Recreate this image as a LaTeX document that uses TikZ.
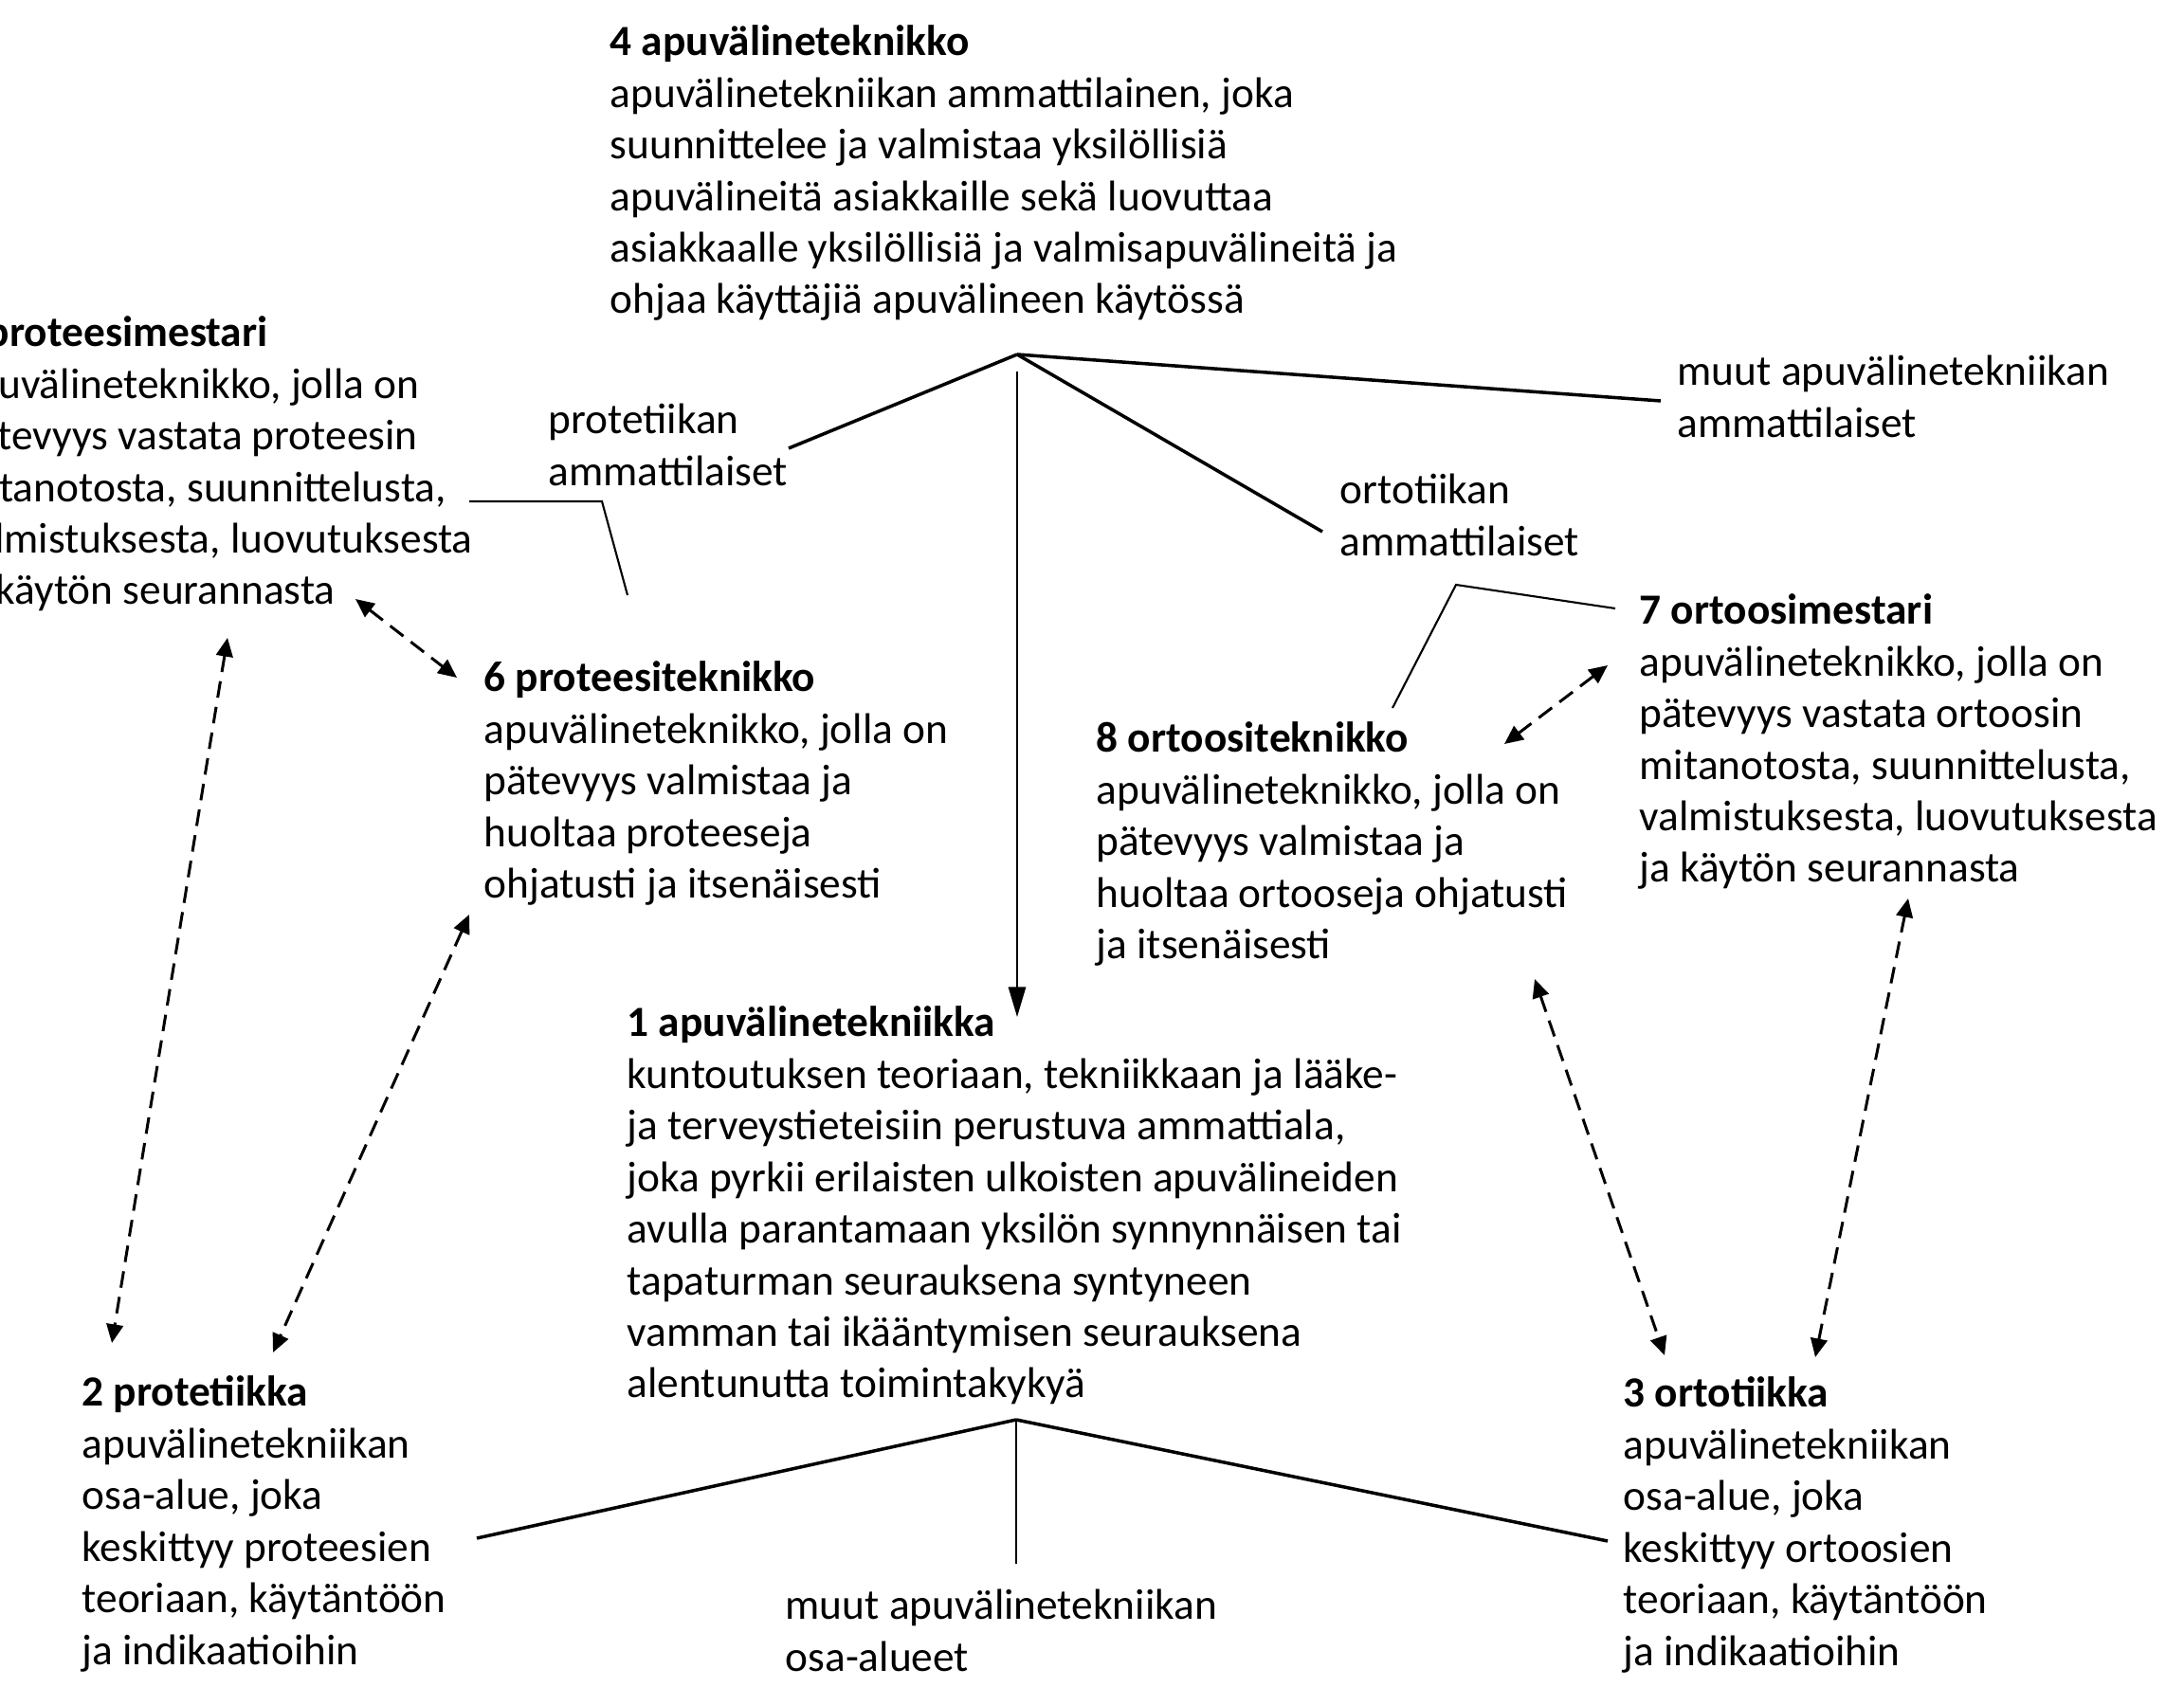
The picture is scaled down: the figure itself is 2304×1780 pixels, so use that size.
\documentclass[tikz,border=0pt]{standalone}
\usepackage{fontspec}
\setmainfont{Carlito}
\usetikzlibrary{arrows.meta}
\newcommand{\fsz}{\fontsize{12.9pt}{15.48pt}\selectfont}
\begin{document}
\begin{tikzpicture}[x=0.01cm,y=-0.01cm,
  txt/.style={anchor=north west, inner sep=0pt, align=left, font=\fsz},
  conn/.style={line width=1pt},
  thinconn/.style={line width=0.6pt},
  dasharrow/.style={line width=0.85pt, dash pattern=on 5pt off 2.8pt,
    {Triangle[length=5.6pt,width=5pt]}-{Triangle[length=5.6pt,width=5pt]}},
]
\useasboundingbox (0,0) rectangle (2304,1780);

% text nodes
\node[txt] (n4) at (643,20) {\strut\textbf{4 apuvälineteknikko}\\
apuvälinetekniikan ammattilainen, joka\\
suunnittelee ja valmistaa yksilöllisiä\\
apuvälineitä asiakkaille sekä luovuttaa\\
asiakkaalle yksilöllisiä ja valmisapuvälineitä ja\\
ohjaa käyttäjiä apuvälineen käytössä};

\node[txt] (n5) at (-48,327) {\strut\textbf{5 proteesimestari}\\
apuvälineteknikko, jolla on\\
pätevyys vastata proteesin\\
mitanotosta, suunnittelusta,\\
valmistuksesta, luovutuksesta\\
ja käytön seurannasta};

\node[txt] (protlab) at (578,419) {\strut protetiikan\\ ammattilaiset};
\node[txt] (muutlab) at (1769,368) {\strut muut apuvälinetekniikan\\ ammattilaiset};
\node[txt] (ortlab) at (1413,493) {\strut ortotiikan\\ ammattilaiset};

\node[txt] (n7) at (1729,620) {\strut\textbf{7 ortoosimestari}\\
apuvälineteknikko, jolla on\\
pätevyys vastata ortoosin\\
mitanotosta, suunnittelusta,\\
valmistuksesta, luovutuksesta\\
ja käytön seurannasta};

\node[txt] (n6) at (510,691) {\strut\textbf{6 proteesiteknikko}\\
apuvälineteknikko, jolla on\\
pätevyys valmistaa ja\\
huoltaa proteeseja\\
ohjatusti ja itsenäisesti};

\node[txt] (n8) at (1156,755) {\strut\textbf{8 ortoositeknikko}\\
apuvälineteknikko, jolla on\\
pätevyys valmistaa ja\\
huoltaa ortooseja ohjatusti\\
ja itsenäisesti};

\node[txt] (n1) at (661,1055) {\strut\textbf{1 apuvälinetekniikka}\\
kuntoutuksen teoriaan, tekniikkaan ja lääke-\\
ja terveystieteisiin perustuva ammattiala,\\
joka pyrkii erilaisten ulkoisten apuvälineiden\\
avulla parantamaan yksilön synnynnäisen tai\\
tapaturman seurauksena syntyneen\\
vamman tai ikääntymisen seurauksena\\
alentunutta toimintakykyä};

\node[txt] (n2) at (86,1445) {\strut\textbf{2 protetiikka}\\
apuvälinetekniikan\\
osa-alue, joka\\
keskittyy proteesien\\
teoriaan, käytäntöön\\
ja indikaatioihin};

\node[txt] (n3) at (1712,1446) {\strut\textbf{3 ortotiikka}\\
apuvälinetekniikan\\
osa-alue, joka\\
keskittyy ortoosien\\
teoriaan, käytäntöön\\
ja indikaatioihin};

\node[txt] (botlab) at (828,1670) {\strut muut apuvälinetekniikan\\ osa-alueet};

% coordinates
\coordinate (topapex) at (1073,374);
\coordinate (protend) at (832,473);
\coordinate (muutend) at (1752,423);
\coordinate (ortend) at (1395,561);
\coordinate (vstart) at (1073,392);
\coordinate (vend) at (1073,1073);
\coordinate (pb1) at (495,529);
\coordinate (pb2) at (635,529);
\coordinate (pb3) at (662,628);
\coordinate (ob1) at (1469,747);
\coordinate (ob2) at (1536,617);
\coordinate (ob3) at (1704,642);
\coordinate (botapex) at (1072,1498);
\coordinate (botleft) at (503,1623);
\coordinate (botright) at (1696,1626);
\coordinate (botdown) at (1072,1650);

\coordinate (a56a) at (375,632);
\coordinate (a56b) at (482,715);
\coordinate (a52a) at (240,673);
\coordinate (a52b) at (118,1417);
\coordinate (a62a) at (495,965);
\coordinate (a62b) at (288,1427);
\coordinate (a78a) at (1696,702);
\coordinate (a78b) at (1587,785);
\coordinate (a83a) at (1619,1033);
\coordinate (a83b) at (1756,1430);
\coordinate (a73a) at (2013,948);
\coordinate (a73b) at (1915,1432);

% solid connectors
\draw[conn] (topapex) -- (protend);
\draw[conn] (topapex) -- (muutend);
\draw[conn] (topapex) -- (ortend);
\draw[thinconn, -{Triangle[length=9pt,width=5.2pt]}] (vstart) -- (vend);
\draw[thinconn] (pb1) -- (pb2) -- (pb3);
\draw[thinconn] (ob1) -- (ob2) -- (ob3);
\draw[conn] (botapex) -- (botleft);
\draw[conn] (botapex) -- (botright);
\draw[thinconn] (botapex) -- (botdown);

% dashed double arrows
\draw[dasharrow] (a56a) -- (a56b);
\draw[dasharrow] (a52a) -- (a52b);
\draw[dasharrow] (a62a) -- (a62b);
\draw[dasharrow] (a78a) -- (a78b);
\draw[dasharrow] (a83a) -- (a83b);
\draw[dasharrow] (a73a) -- (a73b);
\end{tikzpicture}
\end{document}
